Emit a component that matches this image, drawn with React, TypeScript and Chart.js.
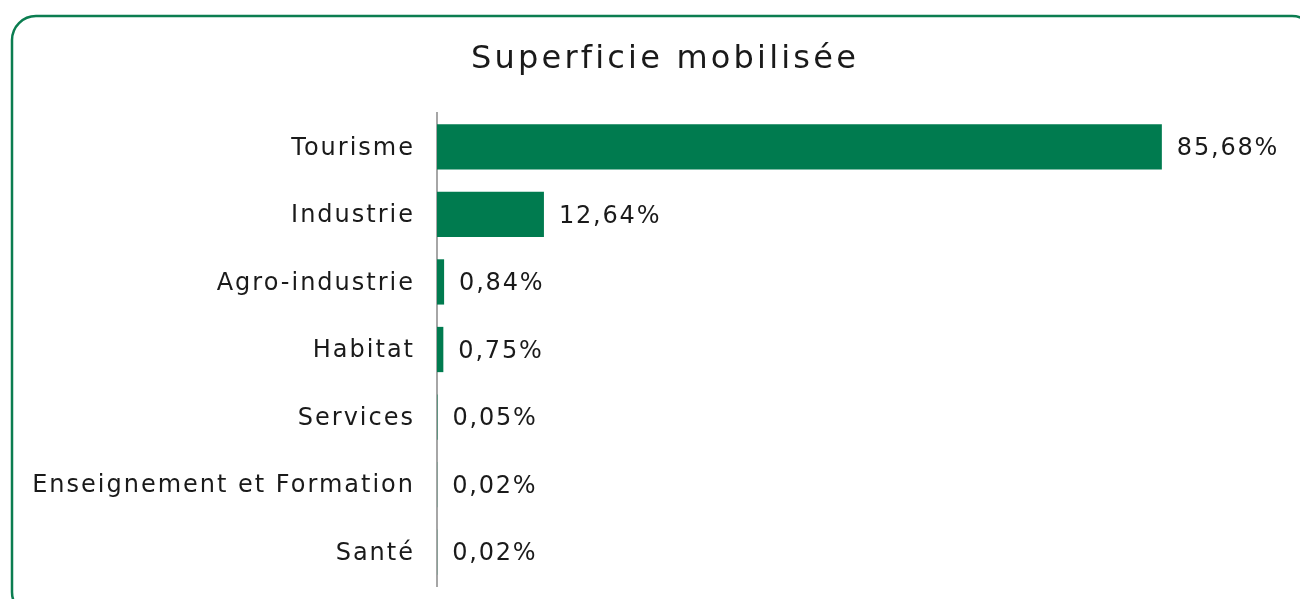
import React, { useEffect, useRef } from "react";
import { Chart, registerables } from "chart.js";

Chart.register(...registerables);

const TITLE = "Superficie mobilisée";
const categories = [
  "Tourisme",
  "Industrie",
  "Agro-industrie",
  "Habitat",
  "Services",
  "Enseignement et Formation",
  "Santé",
];
const values = [85.68, 12.64, 0.84, 0.75, 0.05, 0.02, 0.02];
const valueLabels = ["85,68%", "12,64%", "0,84%", "0,75%", "0,05%", "0,02%", "0,02%"];

const FONT = "'DejaVu Sans', sans-serif";
const GREEN = "#007B4F";
const TEXT = "#1a1a1a";

const framePlugin = {
  id: "frame",
  beforeDraw(chart: any) {
    const ctx = chart.ctx;
    ctx.save();
    ctx.fillStyle = "#ffffff";
    ctx.fillRect(0, 0, chart.width, chart.height);
    ctx.strokeStyle = "#0B7D50";
    ctx.lineWidth = 2.5;
    ctx.beginPath();
    ctx.roundRect(12, 16, 1304, 600, 24);
    ctx.stroke();
    // title
    ctx.font = `32px ${FONT}`;
    (ctx as any).letterSpacing = "3.2px";
    ctx.fillStyle = TEXT;
    ctx.textAlign = "center";
    ctx.textBaseline = "alphabetic";
    ctx.fillText(TITLE, 665, 68);
    ctx.restore();
    // spacing for tick labels
    (ctx as any).letterSpacing = "2px";
  },
};

const valueLabelPlugin = {
  id: "valueLabels",
  afterDatasetsDraw(chart: any) {
    const ctx = chart.ctx;
    const meta = chart.getDatasetMeta(0);
    ctx.save();
    ctx.font = `24px ${FONT}`;
    (ctx as any).letterSpacing = "1.8px";
    ctx.fillStyle = TEXT;
    ctx.textAlign = "left";
    ctx.textBaseline = "middle";
    meta.data.forEach((bar: any, i: number) => {
      ctx.fillText(valueLabels[i], Math.max(bar.x, chart.chartArea.left) + 15, bar.y + 2);
    });
    ctx.restore();
  },
};

export default function App() {
  const ref = useRef<HTMLCanvasElement | null>(null);
  useEffect(() => {
    if (!ref.current) return;
    const chart = new Chart(ref.current, {
      type: "bar",
      data: {
        labels: categories,
        datasets: [
          {
            data: values,
            backgroundColor: GREEN,
            borderWidth: 0,
            barPercentage: 0.67,
            categoryPercentage: 1,
          },
        ],
      },
      options: {
        indexAxis: "y",
        animation: false,
        responsive: false,
        maintainAspectRatio: false,
        layout: { padding: { left: 5, right: 17, top: 113, bottom: 13 } },
        plugins: {
          legend: { display: false },
          tooltip: { enabled: false },
          title: { display: false },
        },
        scales: {
          x: { display: false, min: 0, max: 100 },
          y: {
            grid: { display: false, drawTicks: false },
            border: { display: true, color: "#A6A6A6", width: 2 },
            ticks: {
              color: TEXT,
              padding: 22,
              labelOffset: 1.5,
              font: { family: FONT, size: 24 },
            },
            afterFit(scale: any) {
              scale.width = 432;
              scale.paddingTop = 0;
              scale.paddingBottom = 0;
            },
          },
        },
      },
      plugins: [framePlugin, valueLabelPlugin],
    });
    return () => chart.destroy();
  }, []);
  return (
    <div style={{ position: "fixed", left: 0, top: 0, width: 1300, height: 599, background: "#fff" }}>
      <canvas ref={ref} width={1300} height={599} style={{ display: "block" }} />
    </div>
  );
}
